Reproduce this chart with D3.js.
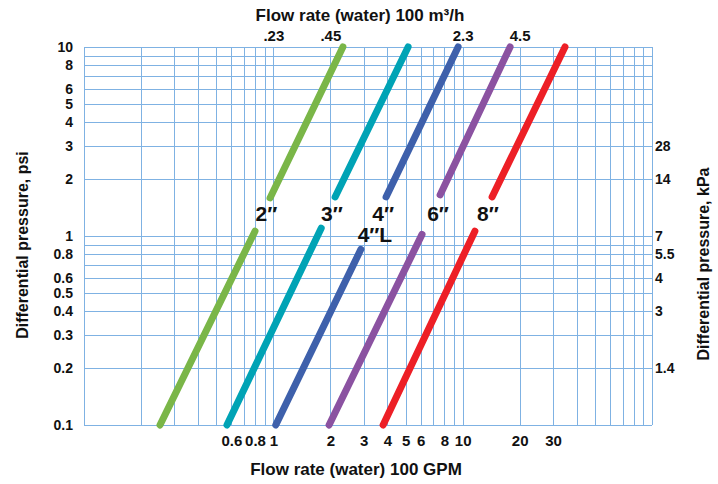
<!DOCTYPE html>
<html>
<head>
<meta charset="utf-8">
<script src="https://cdn.jsdelivr.net/npm/d3@7"></script>
<style>
  body { margin: 0; background: #fff; }
  svg { display: block; }
  .tick text { font-family: 'Liberation Sans Narrow', 'Arial Narrow', 'Liberation Sans', Arial, sans-serif; font-weight: bold; font-size: 15px; fill: #111; }
  .yaxis .tick text { font-size: 14px; }
  .title { font-family: 'Liberation Sans', Arial, sans-serif; font-weight: bold; font-size: 17px; fill: #111; }
  .vtitle { font-family: 'Liberation Sans', Arial, sans-serif; font-weight: bold; font-size: 16px; fill: #111; }
  .size { font-family: 'Liberation Sans', Arial, sans-serif; font-weight: bold; font-size: 21px; fill: #111; }
</style>
</head>
<body>
<svg width="718" height="484"></svg>
<script>
// values (flow in 100 GPM, pressure in psi)
var colors = ['#7ab648', '#00a3b5', '#3e60ab', '#8b52a1', '#ed1f26'];

var lowerFlow = [[0.252, 0.80], [0.569, 1.79], [1.03, 2.90], [1.97, 6.10], [3.80, 11.6]];
var lowerPsi  = [[0.1, 1.06],   [0.1, 1.10],   [0.1, 0.85],  [0.1, 1.02],  [0.1, 1.06]];
var upperFlow = [[0.961, 2.33], [2.12, 5.15],  [3.94, 9.46], [7.60, 17.8], [14.3, 34.7]];
var upperPsi  = [[1.59, 10],    [1.61, 10],    [1.61, 10],   [1.65, 10],   [1.61, 10]];

var sizeNames = ['2″', '3″', '4″', '6″', '8″', '4″L'];
var sizeFlow  = [0.92, 2.04, 3.80, 7.41, 13.6, 3.44];
var sizePsi   = [1.20, 1.20, 1.20, 1.20, 1.20, 0.93];

var bottomTicks = [0.6, 0.8, 1, 2, 3, 4, 5, 6, 8, 10, 20, 30];
var topTicks = [1, 2, 10, 20];
var topLabels = ['.23', '.45', '2.3', '4.5'];
var leftTicks = [0.1, 0.2, 0.3, 0.4, 0.5, 0.6, 0.8, 1, 2, 3, 4, 5, 6, 8, 10];
var rightTicks = [3, 2, 1, 0.8, 0.6, 0.4, 0.2];
var rightLabels = ['28', '14', '7', '5.5', '4', '3', '1.4'];

var svg = d3.select('svg');
var pLeft = 84, pRight = 652, pTop = 47, pBottom = 425;

var x = d3.scaleLog().domain([0.1, 100]).range([pLeft, pRight]);
var y = d3.scaleLog().domain([0.1, 10]).range([pBottom, pTop]);

// grid
var gridX = x.ticks(), gridY = y.ticks();
var grid = svg.append('g').attr('stroke', '#7fb2e3').attr('stroke-width', 1);
grid.selectAll('line.v').data(gridX).enter().append('line')
    .attr('class', 'v')
    .attr('x1', function(d){ return Math.round(x(d)) + 0.5; })
    .attr('x2', function(d){ return Math.round(x(d)) + 0.5; })
    .attr('y1', pTop).attr('y2', pBottom);
grid.selectAll('line.h').data(gridY).enter().append('line')
    .attr('class', 'h')
    .attr('y1', function(d){ return Math.round(y(d)) + 0.5; })
    .attr('y2', function(d){ return Math.round(y(d)) + 0.5; })
    .attr('x1', pLeft).attr('x2', pRight);

// axes
function noDomain(g){ g.select('.domain').remove(); }

svg.append('g').attr('transform', 'translate(0,' + pBottom + ')')
    .call(d3.axisBottom(x).tickValues(bottomTicks).tickFormat(d3.format('')).tickSize(0).tickPadding(10))
    .call(noDomain);
svg.append('g').attr('transform', 'translate(0,' + pTop + ')')
    .call(d3.axisTop(x).tickValues(topTicks).tickFormat(function(d, i){ return topLabels[i]; }).tickSize(0).tickPadding(6))
    .call(noDomain);
svg.append('g').attr('class', 'yaxis').attr('transform', 'translate(' + pLeft + ',0)')
    .call(d3.axisLeft(y).tickValues(leftTicks).tickFormat(d3.format('')).tickSize(0).tickPadding(11))
    .call(noDomain);
svg.append('g').attr('class', 'yaxis').attr('transform', 'translate(' + pRight + ',0)')
    .call(d3.axisRight(y).tickValues(rightTicks).tickFormat(function(d, i){ return rightLabels[i]; }).tickSize(0).tickPadding(3))
    .call(noDomain);

// curves
var line = d3.line().x(function(d){ return x(d[0]); }).y(function(d){ return y(d[1]); });
function segs(flow, psi){
    return flow.map(function(f, i){
        return { c: colors[i], pts: [[f[0], psi[i][0]], [f[1], psi[i][1]]] };
    });
}
svg.append('g').selectAll('path')
    .data(segs(lowerFlow, lowerPsi).concat(segs(upperFlow, upperPsi)))
    .enter().append('path')
    .attr('d', function(d){ return line(d.pts); })
    .attr('fill', 'none')
    .attr('stroke', function(d){ return d.c; })
    .attr('stroke-width', 7)
    .attr('stroke-linecap', 'round');

// pipe size labels
svg.append('g').selectAll('text').data(sizeNames).enter().append('text')
    .attr('class', 'size')
    .attr('text-anchor', 'middle')
    .attr('x', function(d, i){ return x(sizeFlow[i]); })
    .attr('y', function(d, i){ return y(sizePsi[i]); })
    .text(function(d){ return d; });

// titles
svg.append('text').attr('class', 'title').attr('text-anchor', 'middle')
    .attr('x', 360).attr('y', 21).text('Flow rate (water) 100 m³/h');
svg.append('text').attr('class', 'title').attr('text-anchor', 'middle')
    .attr('x', 356).attr('y', 475).text('Flow rate (water) 100 GPM');
svg.append('text').attr('class', 'vtitle').attr('text-anchor', 'middle')
    .attr('transform', 'translate(28,245) rotate(-90)').text('Differential pressure, psi');
svg.append('text').attr('class', 'vtitle').attr('text-anchor', 'middle')
    .attr('transform', 'translate(709,264) rotate(-90)').text('Differential pressure, kPa');
</script>
</body>
</html>
